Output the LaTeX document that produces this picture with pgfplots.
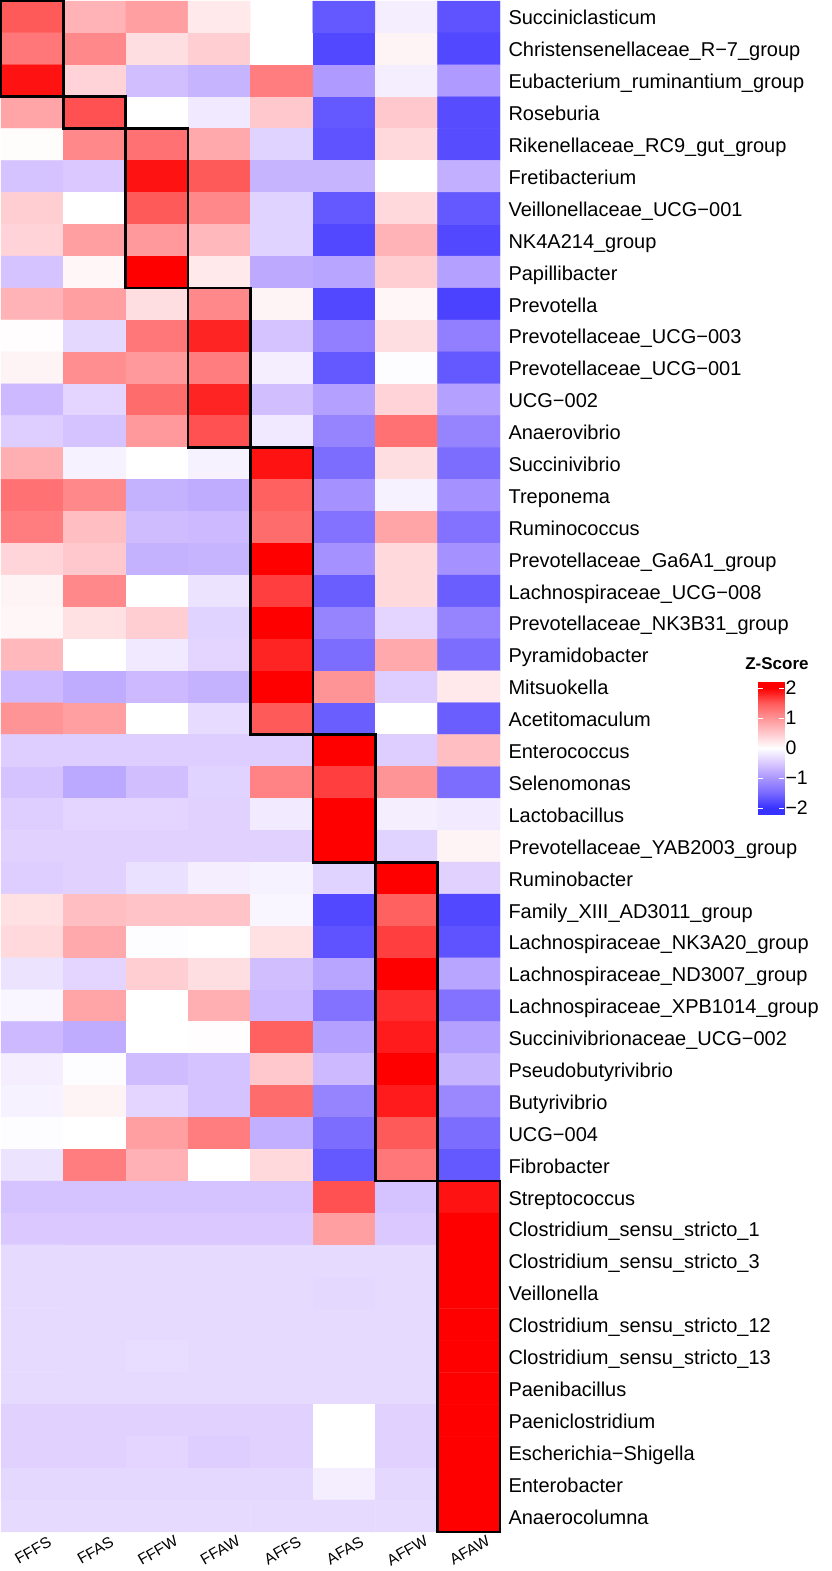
\documentclass[border=0pt]{standalone}
\usepackage{pgfplots}
\pgfplotsset{compat=1.18}
\usepackage{fontspec}
\setmainfont{Liberation Sans}
\pgfplotsset{colormap={zmap}{rgb255(0cm)=(55,50,255) rgb255(1cm)=(120,105,255) rgb255(2cm)=(170,150,255) rgb255(3cm)=(218,200,255) rgb255(4cm)=(255,255,255) rgb255(5cm)=(255,200,205) rgb255(6cm)=(255,148,150) rgb255(7cm)=(255,90,90) rgb255(8cm)=(255,0,0)}}
\begin{document}
\begin{tikzpicture}
\useasboundingbox (-1bp,1bp) rectangle (831bp,-1570bp);
\begin{axis}[
 at={(0,0)}, anchor=north west,
 width=499bp, height=1531bp, scale only axis,
 xmin=0.5, xmax=8.5, ymin=0.5, ymax=48.5, y dir=reverse,
 axis line style={draw=none}, major tick length=0pt,
 clip=false,
 xtick={1,...,8}, xticklabels={FFFS,FFAS,FFFW,FFAW,AFFS,AFAS,AFFW,AFAW},
 xticklabel pos=left,
 xticklabel style={font=\fontsize{15.5bp}{17bp}\selectfont, rotate=30, anchor=center, xshift=1bp},
 xticklabel shift=19bp,
 ytick={1,...,48},
 yticklabels={Succiniclasticum,Christensenellaceae\_R−7\_group,Eubacterium\_ruminantium\_group,Roseburia,Rikenellaceae\_RC9\_gut\_group,Fretibacterium,Veillonellaceae\_UCG−001,NK4A214\_group,Papillibacter,Prevotella,Prevotellaceae\_UCG−003,Prevotellaceae\_UCG−001,UCG−002,Anaerovibrio,Succinivibrio,Treponema,Ruminococcus,Prevotellaceae\_Ga6A1\_group,Lachnospiraceae\_UCG−008,Prevotellaceae\_NK3B31\_group,Pyramidobacter,Mitsuokella,Acetitomaculum,Enterococcus,Selenomonas,Lactobacillus,Prevotellaceae\_YAB2003\_group,Ruminobacter,Family\_XIII\_AD3011\_group,Lachnospiraceae\_NK3A20\_group,Lachnospiraceae\_ND3007\_group,Lachnospiraceae\_XPB1014\_group,Succinivibrionaceae\_UCG−002,Pseudobutyrivibrio,Butyrivibrio,UCG−004,Fibrobacter,Streptococcus,Clostridium\_sensu\_stricto\_1,Clostridium\_sensu\_stricto\_3,Veillonella,Clostridium\_sensu\_stricto\_12,Clostridium\_sensu\_stricto\_13,Paenibacillus,Paeniclostridium,Escherichia−Shigella,Enterobacter,Anaerocolumna},
 yticklabel pos=right,
 yticklabel style={font=\fontsize{20bp}{22bp}\selectfont, anchor=base west, yshift=-8bp, xshift=5bp},
 colormap name=zmap, point meta min=-2, point meta max=2,
]
\addplot[matrix plot*, mesh/cols=8, point meta=explicit] table[row sep=\\, meta=z] {
x y z\\
1 1 1.5\\ 2 1 0.7\\ 3 1 0.9\\ 4 1 0.2\\ 5 1 0\\ 6 1 -1.65\\ 7 1 -0.15\\ 8 1 -1.7\\
1 2 1.25\\ 2 2 1.1\\ 3 2 0.3\\ 4 2 0.45\\ 5 2 0\\ 6 2 -1.8\\ 7 2 0.1\\ 8 2 -1.8\\
1 3 1.9\\ 2 3 0.4\\ 3 3 -0.6\\ 4 3 -0.7\\ 5 3 1.2\\ 6 3 -0.95\\ 7 3 -0.15\\ 8 3 -0.95\\
1 4 0.85\\ 2 4 1.55\\ 3 4 0\\ 4 4 -0.2\\ 5 4 0.5\\ 6 4 -1.65\\ 7 4 0.5\\ 8 4 -1.75\\
1 5 0.03\\ 2 5 1.1\\ 3 5 1.3\\ 4 5 0.8\\ 5 5 -0.4\\ 6 5 -1.7\\ 7 5 0.35\\ 8 5 -1.75\\
1 6 -0.55\\ 2 6 -0.5\\ 3 6 1.9\\ 4 6 1.5\\ 5 6 -0.7\\ 6 6 -0.7\\ 7 6 0\\ 8 6 -0.75\\
1 7 0.45\\ 2 7 0\\ 3 7 1.5\\ 4 7 1.1\\ 5 7 -0.4\\ 6 7 -1.65\\ 7 7 0.35\\ 8 7 -1.65\\
1 8 0.4\\ 2 8 0.9\\ 3 8 0.95\\ 4 8 0.65\\ 5 8 -0.4\\ 6 8 -1.8\\ 7 8 0.7\\ 8 8 -1.8\\
1 9 -0.55\\ 2 9 0.08\\ 3 9 2.0\\ 4 9 0.2\\ 5 9 -0.8\\ 6 9 -0.85\\ 7 9 0.45\\ 8 9 -0.9\\
1 10 0.7\\ 2 10 0.9\\ 3 10 0.3\\ 4 10 1.1\\ 5 10 0.1\\ 6 10 -1.8\\ 7 10 0.08\\ 8 10 -1.85\\
1 11 0.02\\ 2 11 -0.35\\ 3 11 1.25\\ 4 11 1.8\\ 5 11 -0.55\\ 6 11 -1.25\\ 7 11 0.3\\ 8 11 -1.25\\
1 12 0.1\\ 2 12 1.05\\ 3 12 0.95\\ 4 12 1.2\\ 5 12 -0.15\\ 6 12 -1.65\\ 7 12 -0.03\\ 8 12 -1.65\\
1 13 -0.65\\ 2 13 -0.38\\ 3 13 1.35\\ 4 13 1.8\\ 5 13 -0.6\\ 6 13 -0.9\\ 7 13 0.4\\ 8 13 -0.9\\
1 14 -0.45\\ 2 14 -0.55\\ 3 14 0.95\\ 4 14 1.55\\ 5 14 -0.2\\ 6 14 -1.2\\ 7 14 1.3\\ 8 14 -1.2\\
1 15 0.75\\ 2 15 -0.12\\ 3 15 0\\ 4 15 -0.12\\ 5 15 1.9\\ 6 15 -1.45\\ 7 15 0.3\\ 8 15 -1.45\\
1 16 1.3\\ 2 16 1.1\\ 3 16 -0.72\\ 4 16 -0.78\\ 5 16 1.45\\ 6 16 -1.05\\ 7 16 -0.12\\ 8 16 -1.05\\
1 17 1.2\\ 2 17 0.6\\ 3 17 -0.62\\ 4 17 -0.65\\ 5 17 1.35\\ 6 17 -1.4\\ 7 17 0.85\\ 8 17 -1.4\\
1 18 0.38\\ 2 18 0.5\\ 3 18 -0.72\\ 4 18 -0.7\\ 5 18 2.0\\ 6 18 -1.05\\ 7 18 0.35\\ 8 18 -1.05\\
1 19 0.1\\ 2 19 1.1\\ 3 19 0\\ 4 19 -0.25\\ 5 19 1.65\\ 6 19 -1.6\\ 7 19 0.35\\ 8 19 -1.6\\
1 20 0.08\\ 2 20 0.28\\ 3 20 0.45\\ 4 20 -0.4\\ 5 20 2.0\\ 6 20 -1.2\\ 7 20 -0.38\\ 8 20 -1.2\\
1 21 0.65\\ 2 21 0\\ 3 21 -0.2\\ 4 21 -0.38\\ 5 21 1.8\\ 6 21 -1.45\\ 7 21 0.8\\ 8 21 -1.45\\
1 22 -0.65\\ 2 22 -0.78\\ 3 22 -0.65\\ 4 22 -0.72\\ 5 22 2.0\\ 6 22 1.0\\ 7 22 -0.45\\ 8 22 0.2\\
1 23 1.0\\ 2 23 0.9\\ 3 23 0\\ 4 23 -0.32\\ 5 23 1.5\\ 6 23 -1.6\\ 7 23 0\\ 8 23 -1.6\\
1 24 -0.45\\ 2 24 -0.45\\ 3 24 -0.45\\ 4 24 -0.45\\ 5 24 -0.45\\ 6 24 2.0\\ 7 24 -0.45\\ 8 24 0.6\\
1 25 -0.55\\ 2 25 -0.82\\ 3 25 -0.6\\ 4 25 -0.4\\ 5 25 1.15\\ 6 25 1.65\\ 7 25 1.0\\ 8 25 -1.45\\
1 26 -0.45\\ 2 26 -0.38\\ 3 26 -0.38\\ 4 26 -0.42\\ 5 26 -0.18\\ 6 26 2.0\\ 7 26 -0.15\\ 8 26 -0.18\\
1 27 -0.42\\ 2 27 -0.42\\ 3 27 -0.42\\ 4 27 -0.42\\ 5 27 -0.42\\ 6 27 2.0\\ 7 27 -0.4\\ 8 27 0.1\\
1 28 -0.45\\ 2 28 -0.42\\ 3 28 -0.28\\ 4 28 -0.15\\ 5 28 -0.12\\ 6 28 -0.4\\ 7 28 2.0\\ 8 28 -0.42\\
1 29 0.28\\ 2 29 0.6\\ 3 29 0.55\\ 4 29 0.55\\ 5 29 -0.08\\ 6 29 -1.8\\ 7 29 1.45\\ 8 29 -1.8\\
1 30 0.35\\ 2 30 0.8\\ 3 30 -0.02\\ 4 30 0\\ 5 30 0.28\\ 6 30 -1.7\\ 7 30 1.65\\ 8 30 -1.7\\
1 31 -0.25\\ 2 31 -0.38\\ 3 31 0.45\\ 4 31 0.3\\ 5 31 -0.6\\ 6 31 -0.85\\ 7 31 2.0\\ 8 31 -0.85\\
1 32 -0.08\\ 2 32 0.85\\ 3 32 0\\ 4 32 0.75\\ 5 32 -0.65\\ 6 32 -1.4\\ 7 32 1.75\\ 8 32 -1.4\\
1 33 -0.65\\ 2 33 -0.78\\ 3 33 0\\ 4 33 0.02\\ 5 33 1.45\\ 6 33 -0.9\\ 7 33 1.85\\ 8 33 -0.9\\
1 34 -0.15\\ 2 34 -0.02\\ 3 34 -0.62\\ 4 34 -0.55\\ 5 34 0.5\\ 6 34 -0.65\\ 7 34 2.0\\ 8 34 -0.7\\
1 35 -0.12\\ 2 35 0.1\\ 3 35 -0.38\\ 4 35 -0.55\\ 5 35 1.35\\ 6 35 -1.2\\ 7 35 1.85\\ 8 35 -1.15\\
1 36 -0.02\\ 2 36 0\\ 3 36 0.9\\ 4 36 1.2\\ 5 36 -0.75\\ 6 36 -1.45\\ 7 36 1.5\\ 8 36 -1.45\\
1 37 -0.25\\ 2 37 1.2\\ 3 37 0.72\\ 4 37 0\\ 5 37 0.35\\ 6 37 -1.65\\ 7 37 1.25\\ 8 37 -1.65\\
1 38 -0.55\\ 2 38 -0.55\\ 3 38 -0.55\\ 4 38 -0.55\\ 5 38 -0.55\\ 6 38 1.55\\ 7 38 -0.55\\ 8 38 1.9\\
1 39 -0.5\\ 2 39 -0.5\\ 3 39 -0.5\\ 4 39 -0.5\\ 5 39 -0.5\\ 6 39 0.9\\ 7 39 -0.5\\ 8 39 2.0\\
1 40 -0.33\\ 2 40 -0.33\\ 3 40 -0.33\\ 4 40 -0.33\\ 5 40 -0.33\\ 6 40 -0.33\\ 7 40 -0.33\\ 8 40 2.0\\
1 41 -0.33\\ 2 41 -0.33\\ 3 41 -0.33\\ 4 41 -0.33\\ 5 41 -0.33\\ 6 41 -0.35\\ 7 41 -0.33\\ 8 41 2.0\\
1 42 -0.33\\ 2 42 -0.33\\ 3 42 -0.33\\ 4 42 -0.33\\ 5 42 -0.33\\ 6 42 -0.33\\ 7 42 -0.33\\ 8 42 2.0\\
1 43 -0.33\\ 2 43 -0.33\\ 3 43 -0.31\\ 4 43 -0.33\\ 5 43 -0.33\\ 6 43 -0.33\\ 7 43 -0.33\\ 8 43 2.0\\
1 44 -0.33\\ 2 44 -0.33\\ 3 44 -0.33\\ 4 44 -0.33\\ 5 44 -0.33\\ 6 44 -0.33\\ 7 44 -0.33\\ 8 44 2.0\\
1 45 -0.42\\ 2 45 -0.42\\ 3 45 -0.42\\ 4 45 -0.42\\ 5 45 -0.42\\ 6 45 0\\ 7 45 -0.42\\ 8 45 2.0\\
1 46 -0.42\\ 2 46 -0.42\\ 3 46 -0.38\\ 4 46 -0.44\\ 5 46 -0.42\\ 6 46 0\\ 7 46 -0.42\\ 8 46 2.0\\
1 47 -0.35\\ 2 47 -0.35\\ 3 47 -0.35\\ 4 47 -0.35\\ 5 47 -0.35\\ 6 47 -0.15\\ 7 47 -0.35\\ 8 47 2.0\\
1 48 -0.33\\ 2 48 -0.33\\ 3 48 -0.33\\ 4 48 -0.33\\ 5 48 -0.33\\ 6 48 -0.33\\ 7 48 -0.33\\ 8 48 2.0\\
};
\addplot[black, line width=2.7bp, line join=miter] coordinates {(0.5,0.5) (1.5,0.5) (1.5,3.5) (0.5,3.5)} --cycle;
\addplot[black, line width=2.7bp, line join=miter] coordinates {(1.5,3.5) (2.5,3.5) (2.5,4.5) (1.5,4.5)} --cycle;
\addplot[black, line width=2.7bp, line join=miter] coordinates {(2.5,4.5) (3.5,4.5) (3.5,9.5) (2.5,9.5)} --cycle;
\addplot[black, line width=2.7bp, line join=miter] coordinates {(3.5,9.5) (4.5,9.5) (4.5,14.5) (3.5,14.5)} --cycle;
\addplot[black, line width=2.7bp, line join=miter] coordinates {(4.5,14.5) (5.5,14.5) (5.5,23.5) (4.5,23.5)} --cycle;
\addplot[black, line width=2.7bp, line join=miter] coordinates {(5.5,23.5) (6.5,23.5) (6.5,27.5) (5.5,27.5)} --cycle;
\addplot[black, line width=2.7bp, line join=miter] coordinates {(6.5,27.5) (7.5,27.5) (7.5,37.5) (6.5,37.5)} --cycle;
\addplot[black, line width=2.7bp, line join=miter] coordinates {(7.5,37.5) (8.5,37.5) (8.5,48.5) (7.5,48.5)} --cycle;
\end{axis}
\begin{axis}[
 at={(757bp,-681bp)}, anchor=north west,
 scale only axis, width=26bp, height=132bp,
 xmin=0, xmax=1, ymin=-2.2, ymax=2.2,
 axis on top,
 colormap name=zmap, point meta min=-2, point meta max=2,
 axis line style={draw=none},
 xtick=\empty,
 ytick={-2,-1,0,1,2}, yticklabels={−2,−1,0,1,2},
 yticklabel style={font=\fontsize{19.5bp}{21bp}\selectfont, xshift=-2bp},
 major tick length=5bp, tick align=inside,
 ytick style={draw=white, line width=1bp},
 yticklabel pos=right, ytick pos=both,
 title={\bfseries Z-Score},
 title style={font=\fontsize{17bp}{19bp}\selectfont, at={(0.5,1)}, anchor=south, yshift=3bp, xshift=6bp},
]
\addplot[surf, shader=interp, mesh/cols=2, point meta=explicit] table[row sep=\\, meta=m] {
x y m\\
0 -2.2 -2\\ 1 -2.2 -2\\
0 -2 -2\\ 1 -2 -2\\
0 -1.5 -1.5\\ 1 -1.5 -1.5\\
0 -1 -1\\ 1 -1 -1\\
0 -0.5 -0.5\\ 1 -0.5 -0.5\\
0 0 0\\ 1 0 0\\
0 0.5 0.5\\ 1 0.5 0.5\\
0 1 1\\ 1 1 1\\
0 1.5 1.5\\ 1 1.5 1.5\\
0 2 2\\ 1 2 2\\
0 2.2 2\\ 1 2.2 2\\
};
\end{axis}
\end{tikzpicture}
\end{document}
